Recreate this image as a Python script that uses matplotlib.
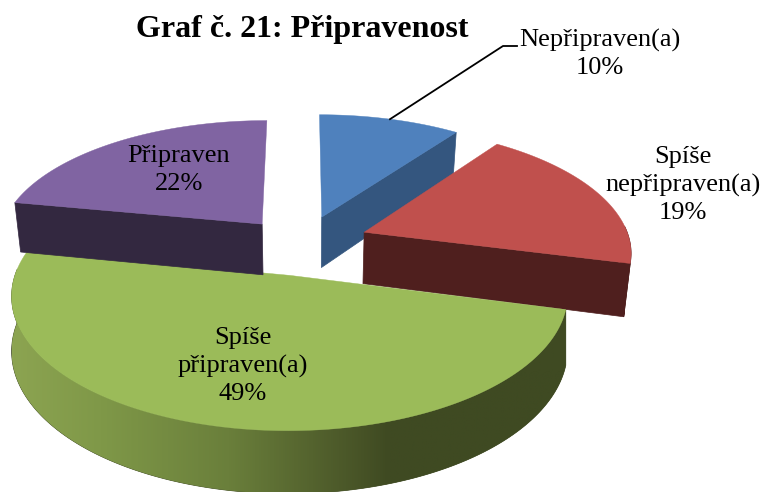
import numpy as np
import matplotlib
matplotlib.use('Agg')
import matplotlib.pyplot as plt
from matplotlib.colors import LinearSegmentedColormap

title = 'Graf č. 21: Připravenost'
labels = ['Nepřipraven(a)', 'Spíše\nnepřipraven(a)', 'Spíše\npřipraven(a)', 'Připraven']
values = [10, 19, 49, 22]

top_colors = ['#4f81bd', '#c0504d', '#9bbb59', '#8064a2']
side_colors = ['#34567f', '#4f1f1e', '#3f4a22', '#332840']
label_pos = [(600, 54), (683, 185), (243, 366), (179, 170)]
nudge = [(-2, -2), (1, -4), (-1, 0), (-4, 0)]
shrink = [0.98, 0.98, 1.0, 0.98]
cut_edge = [-1, -1, None, 0]

# projection of the tilted pie, in pixels
cx, cy = 305, 246
rx, ry = 266, 124
persp = 0.142
explode = 0.235
depth = 52

green_wall = LinearSegmentedColormap.from_list('wall', [
    (0.0, '#8ca451'), (0.16, '#7f9848'), (0.39, '#6a7f3b'),
    (0.59, '#4d5a2a'), (0.68, '#3f4a22'), (1.0, '#3f4a22')])


def project(a, r, off, shift):
    # a is clockwise from 12 o'clock
    X = off[0] + r * np.sin(a)
    Y = off[1] + r * np.cos(a)
    s = 1 / (1 + persp * Y)
    return cx + rx * X * s + shift[0], cy - ry * Y * s + shift[1], s


def lower(x, y, s, k):
    return cx + (x - cx) * k, y + depth * s


fig = plt.figure(figsize=(7.63, 4.92), dpi=100)
ax = fig.add_axes([0, 0, 1, 1])

fracs = np.array(values) / sum(values)
ends = np.cumsum(fracs) * 2 * np.pi
starts = ends - fracs * 2 * np.pi

# back to front: purple, blue, red, green
for i in [3, 0, 1, 2]:
    mid = (starts[i] + ends[i]) / 2
    off = (explode * np.sin(mid), explode * np.cos(mid))
    arc = np.linspace(starts[i], ends[i], 200)
    x, y, s = project(arc, 1, off, nudge[i])
    x0, y0, s0 = project(0.0, 0, off, nudge[i])
    xb, yb = lower(x, y, s, shrink[i])
    xb0, yb0 = lower(x0, y0, s0, shrink[i])

    # outer wall, only the part that faces the viewer
    front = np.cos(arc) < 0.05
    if front.any():
        wall = ax.fill(np.r_[x[front], xb[front][::-1]], np.r_[y[front], yb[front][::-1]],
                       color=side_colors[i], lw=0.5, zorder=i * 3 + 1)[0]
        if i == 2:
            grad = np.linspace(0, 1, 512).reshape(1, -1)
            im = ax.imshow(grad, cmap=green_wall, aspect='auto', zorder=i * 3 + 2,
                           extent=(x.min(), x.max(), 492, 250))
            im.set_clip_path(wall)

    # the one cut face that can be seen
    k = cut_edge[i]
    if k is not None:
        ax.fill([x0, x[k], xb[k], xb0], [y0, y[k], yb[k], yb0],
                color=side_colors[i], lw=0.5, zorder=i * 3 + 2)

    ax.fill(np.r_[x0, x], np.r_[y0, y], color=top_colors[i], lw=0.3, zorder=i * 3 + 3)

    if i == 0:
        # leader line to the blue slice label
        xm, ym, _ = project(mid, 1, off, nudge[i])
        ax.plot([xm, 503, 517], [ym, 46, 46], color='black', lw=1.3, zorder=20)

for lab, v, (lx, ly) in zip(labels, values, label_pos):
    ax.text(lx, ly, f'{lab}\n{v}%', ha='center', va='center', family='Liberation Serif',
            fontsize=19, linespacing=1.32, color='black', zorder=30)

ax.text(302, 30, title, ha='center', va='center', family='Liberation Serif',
        fontsize=23, fontweight='bold', color='black', zorder=30)

ax.set_xlim(0, 763)
ax.set_ylim(492, 0)
ax.axis('off')

fig.savefig('out.png', dpi=100)
